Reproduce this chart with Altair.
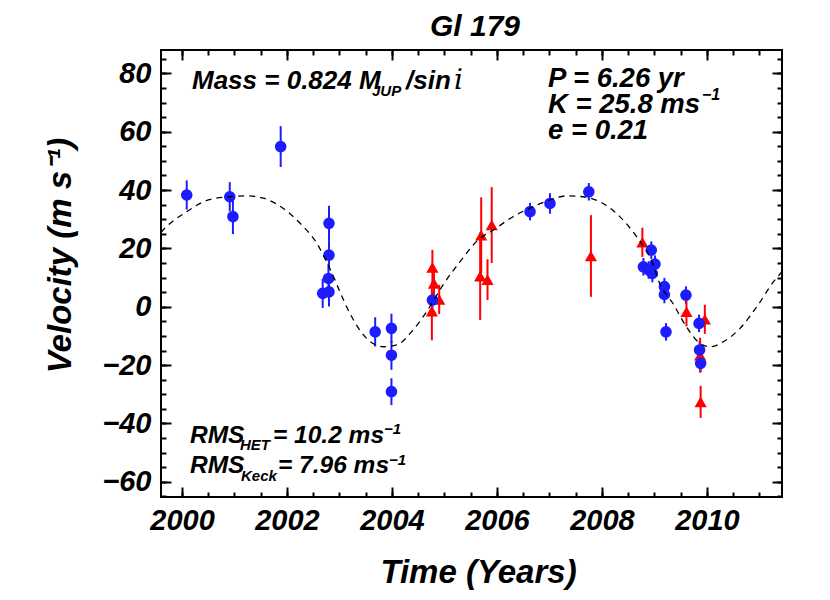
import altair as alt
import pandas as pd

# ---------------- data ----------------
blue_t = [2000.09, 2000.91, 2000.97, 2001.88, 2002.80, 2002.80, 2002.79, 2002.68, 2002.80,
          2003.68, 2003.99, 2003.99, 2003.99, 2004.77, 2006.63, 2007.01, 2007.75,
          2008.79, 2008.94, 2009.01, 2008.89, 2008.96, 2009.19, 2009.19, 2009.22,
          2009.60, 2009.85, 2009.86, 2009.88]
blue_v = [38.3, 37.7, 30.9, 54.9, 28.6, 17.7, 9.7, 4.6, 5.1,
          -8.6, -7.4, -16.6, -29.1, 2.3, 32.6, 35.4, 39.4,
          13.7, 19.4, 14.6, 12.6, 11.4, 6.9, 4.2, -8.6,
          4.0, -5.7, -14.8, -19.4]
blue_e = [5, 5, 6, 7, 6, 5, 5, 5, 5,
          5, 5, 5, 4.6, 3, 3, 3.5, 3,
          3, 3, 3, 3, 3, 3, 3, 3,
          3, 3, 3, 3]

red_t = [2004.77, 2004.80, 2004.90, 2004.76, 2005.70, 2005.68, 2005.82, 2005.90,
         2007.79, 2008.77, 2009.61, 2009.96, 2009.87, 2009.88]
red_v = [13.5, 8.0, 2.5, -1.5, 24.5, 10.5, 9.3, 28.0,
         17.4, 22.1, -1.7, -4.3, -16.6, -32.6]
red_e = [6, 5, 5, 10, 13, 15, 7, 13,
         14, 5, 5, 5, 6, 5.5]

curve_t = [1999.60, 1999.64, 2000.09, 2000.50, 2000.91, 2001.23, 2001.55, 2001.93, 2002.25,
           2002.57, 2002.80, 2003.20, 2003.41, 2003.64, 2003.83, 2004.09, 2004.40,
           2004.72, 2004.97, 2005.32, 2005.64, 2005.93, 2006.31, 2006.69, 2007.04,
           2007.33, 2007.64, 2008.02, 2008.34, 2008.66, 2008.94, 2009.10, 2009.35,
           2009.61, 2009.83, 2010.06, 2010.31, 2010.63, 2010.95, 2011.27, 2011.43]
curve_v = [25.5, 26.3, 32.6, 36.6, 37.7, 38.0, 37.2, 33.7, 28.6,
           21.7, 13.7, -2.3, -8.6, -12.6, -13.7, -13.1, -8.0,
           0.0, 7.4, 16.0, 22.9, 26.3, 30.9, 34.3, 36.8,
           38.0, 37.7, 35.4, 30.9, 24.0, 16.0, 8.0, 1.2,
           -6.9, -12.0, -13.7, -12.0, -7.4, 0.0, 8.6, 12.0]

x_major = [2000, 2002, 2004, 2006, 2008, 2010]
x_minor = [1999.5 + 0.5 * i for i in range(25)]
y_major = [-60, -40, -20, 0, 20, 40, 60, 80]
y_minor = [-65 + 5 * i for i in range(31)]

# ---------------- style ----------------
W, H = 621, 447
FONT = "Liberation Sans, Arial, sans-serif"
SERIF = "DejaVu Serif, Liberation Serif, serif"
BLUE = "#1c1cff"
RED = "#ff0000"

xs = alt.Scale(domain=[1999.60, 2011.43], nice=False, zero=False)
ys = alt.Scale(domain=[-65.2, 88.0], nice=False, zero=False)

blue_df = pd.DataFrame({"t": blue_t, "v": blue_v, "e": blue_e})
red_df = pd.DataFrame({"t": red_t, "v": red_v, "e": red_e})
curve_df = pd.DataFrame({"t": curve_t, "v": curve_v})
one = pd.DataFrame({"a": [0]})


def xaxis(orient, values, size, main=False):
    kw = dict(orient=orient, values=values, tickSize=size, offset=-size, domain=False,
              grid=False, tickColor="black", tickWidth=2, labels=main, title=None)
    if main:
        kw.update(format="d", labelFont=FONT, labelFontSize=29, labelFontStyle="italic",
                  labelFontWeight="bold", labelColor="black", labelPadding=9,
                  labelFlush=False, labelOverlap=False,
                  title="Time  (Years)", titleFont=FONT, titleFontSize=33,
                  titleFontStyle="italic", titleFontWeight="bold", titleColor="black",
                  titleX=317, titleY=95, titleBaseline="alphabetic", titleAlign="center",
                  titleAnchor="middle")
    return alt.Axis(**kw)


def yaxis(orient, values, size, main=False):
    kw = dict(orient=orient, values=values, tickSize=size, offset=-size, domain=False,
              grid=False, tickColor="black", tickWidth=2, labels=main, title=None)
    if main:
        kw.update(format="d", labelFont=FONT, labelFontSize=29, labelFontStyle="italic",
                  labelFontWeight="bold", labelColor="black", labelPadding=10,
                  labelFlush=False, labelOverlap=False,
                  title="Velocity  (m s\u207b\u00b9)", titleFont=FONT, titleFontSize=33,
                  titleFontStyle="italic", titleFontWeight="bold", titleColor="black",
                  titleX=-101, titleY=205, titleBaseline="alphabetic", titleAlign="center",
                  titleAngle=270, titleAnchor="middle")
    return alt.Axis(**kw)


def axis_layer(xa, ya):
    return alt.Chart(blue_df).mark_point(opacity=0).encode(
        x=alt.X("t:Q", scale=xs, axis=xa),
        y=alt.Y("v:Q", scale=ys, axis=ya),
    )


axes = [
    axis_layer(xaxis("bottom", x_major, 10, True), yaxis("left", y_major, 10, True)),
    axis_layer(xaxis("bottom", x_minor, 5), yaxis("left", y_minor, 5)),
    axis_layer(xaxis("top", x_major, 10), yaxis("right", y_major, 10)),
    axis_layer(xaxis("top", x_minor, 5), yaxis("right", y_minor, 5)),
]


def err_layer(df, color):
    return alt.Chart(df).transform_calculate(
        lo="datum.v - datum.e", hi="datum.v + datum.e"
    ).mark_rule(color=color, strokeWidth=2).encode(
        x=alt.X("t:Q", scale=xs, axis=None),
        y=alt.Y("lo:Q", scale=ys, axis=None),
        y2="hi:Q",
    )


blue_err = err_layer(blue_df, BLUE)
red_err = err_layer(red_df, RED)
blue_pts = alt.Chart(blue_df).mark_point(shape="circle", filled=True, opacity=1,
                                         color=BLUE, size=135).encode(
    x=alt.X("t:Q", scale=xs, axis=None), y=alt.Y("v:Q", scale=ys, axis=None))
red_pts = alt.Chart(red_df).mark_point(shape="triangle-up", filled=True, opacity=1,
                                       color=RED, size=150).encode(
    x=alt.X("t:Q", scale=xs, axis=None), y=alt.Y("v:Q", scale=ys, axis=None))
curve = alt.Chart(curve_df).mark_line(color="black", strokeWidth=1.3, strokeDash=[6, 5],
                                      interpolate="monotone", clip=True).encode(
    x=alt.X("t:Q", scale=xs, axis=None), y=alt.Y("v:Q", scale=ys, axis=None))


def txt(s, x, y, size=25, font=FONT, weight="bold", style="italic", align="left"):
    return alt.Chart(one).mark_text(text=s, font=font, fontSize=size, fontWeight=weight,
                                    fontStyle=style, align=align, baseline="alphabetic",
                                    color="black").encode(x=alt.value(x), y=alt.value(y))


notes = [
    txt("Gl 179", 314, -14, 30, align="center"),
    txt("Mass = 0.824 M", 31, 39, 26),
    txt("JUP", 211, 46, 15),
    txt("/sin", 245, 39, 26),
    txt("i", 293, 39, 28, font=SERIF, weight="normal"),
    txt("P = 6.26 yr", 387, 37, 27.5),
    txt("K = 25.8 ms", 387, 63, 27.5),
    txt("\u22121", 541, 50, 16),
    txt("e = 0.21", 387, 89, 27.5),
    txt("RMS", 29, 393, 24.5),
    txt("HET", 79, 400, 15),
    txt("= 10.2 ms", 112, 393, 24.5),
    txt("\u22121", 223, 384, 15),
    txt("RMS", 29, 423, 24.5),
    txt("Keck", 80, 431, 15),
    txt("= 7.96 ms", 117, 423, 24.5),
    txt("\u22121", 228, 415, 15),
]

chart = alt.layer(*axes, blue_err, red_err, red_pts, blue_pts, curve, *notes).resolve_axis(
    x="independent", y="independent"
).properties(
    width=W, height=H,
    autosize=alt.AutoSizeParams(type="none"),
    padding={"left": 153, "top": 42, "right": 30, "bottom": 100},
).configure_view(stroke="black", strokeWidth=2)

chart.save("out.html", embed_options={"renderer": "svg", "actions": False})
